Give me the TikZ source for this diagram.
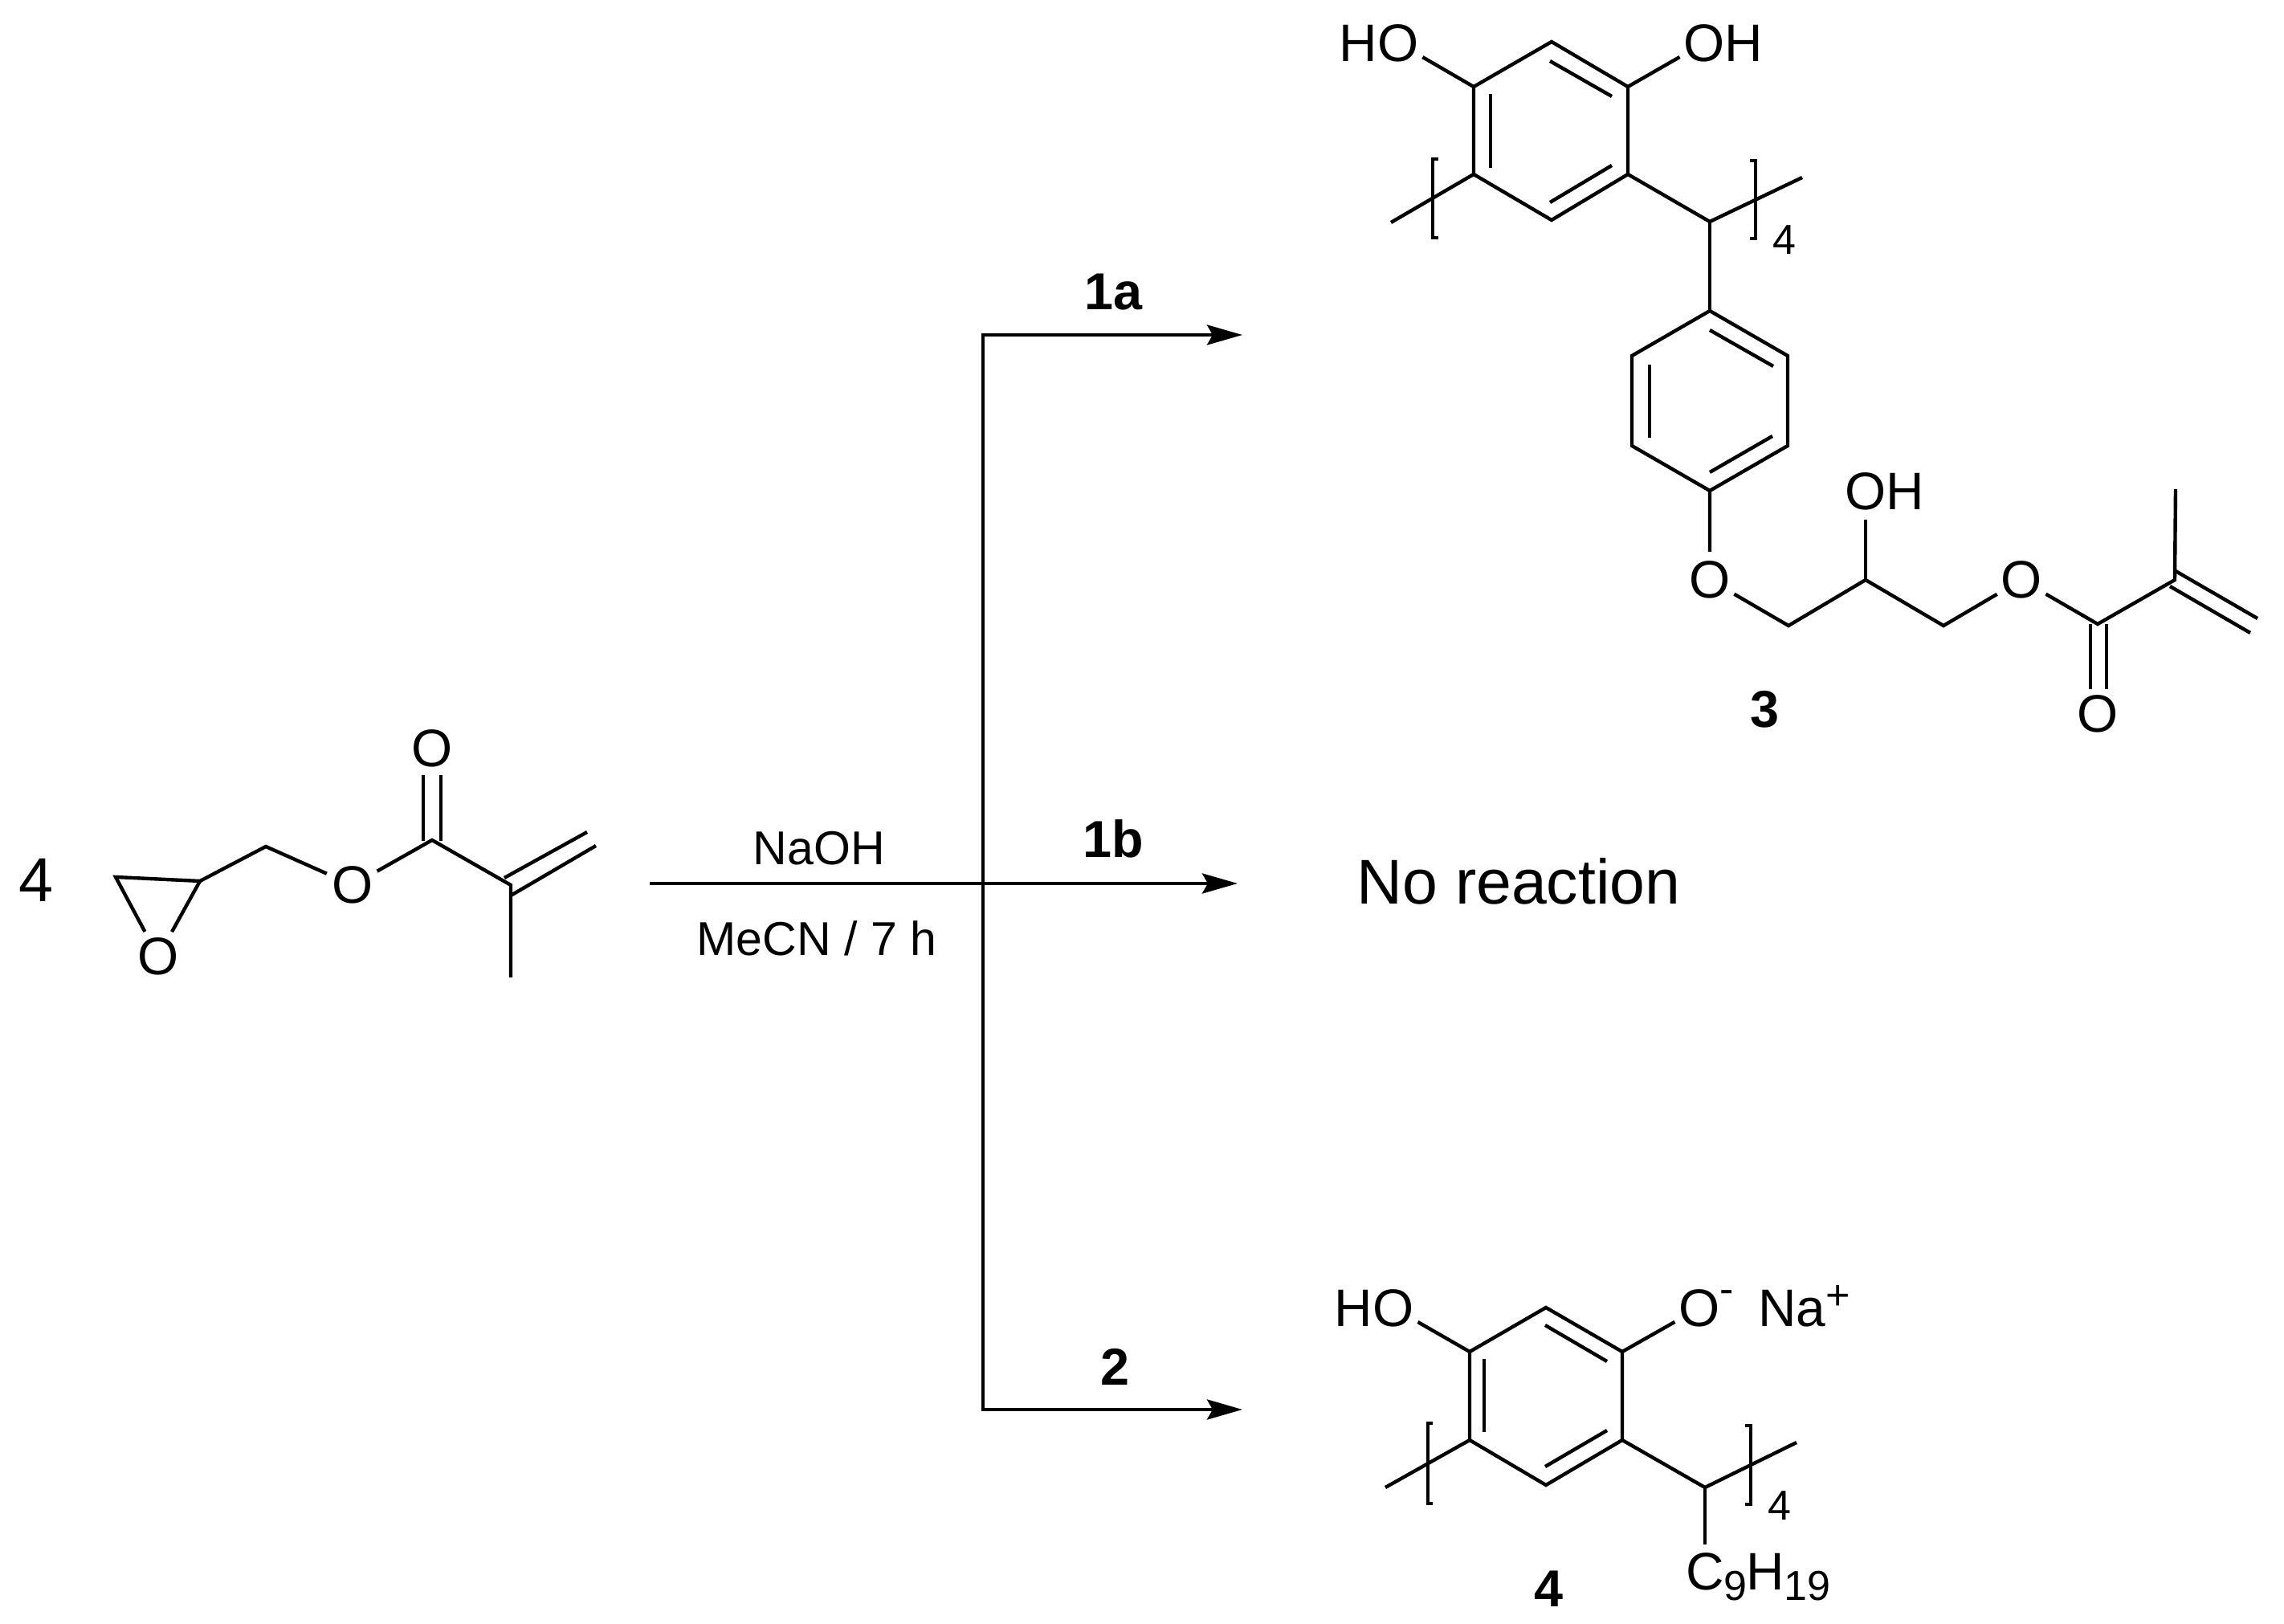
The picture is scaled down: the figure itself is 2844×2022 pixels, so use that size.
\documentclass[tikz,border=0pt]{standalone}
\usepackage{fontspec}
\setmainfont{Liberation Sans}
\usetikzlibrary{arrows.meta}
\newcommand{\subfs}{\fontsize{14.8}{16}\selectfont}
\begin{document}
\begin{tikzpicture}[x=0.01cm,y=-0.01cm,
    bond/.style={line width=1.25pt},
    atom/.style={circle,inner sep=0pt,minimum size=0.67cm,font=\fontsize{18.7}{20}\selectfont},
    txt/.style={anchor=base,inner sep=0pt,font=\fontsize{16.8}{18}\selectfont},
    subtxt/.style={anchor=base,inner sep=0pt,font=\subfs},
    boldtxt/.style={anchor=base,inner sep=0pt,font=\fontsize{18.4}{20}\selectfont\bfseries},
    rxn/.style={line width=1.15pt,-{Stealth[length=0.44cm,width=0.25cm,inset=0.07cm]}}]
\useasboundingbox (0,0) rectangle (2844,2022);

% reagent
\node[anchor=base,inner sep=0pt,font=\fontsize{22}{24}\selectfont] (count) at (45,1123) {4};
\coordinate (ep1) at (144,1092);
\coordinate (ep2) at (249,1097);
\coordinate (ch1) at (331,1054);
\coordinate (co1) at (538,1046);
\coordinate (me1) at (636,1102);
\coordinate (me2) at (636,1217);
\node[atom] (oep) at (197,1191) {O};
\node[atom] (oes) at (439,1102) {O};
\node[atom] (oco) at (538,932) {O};
\draw[bond] (oep) -- (ep1) -- (ep2) -- (oep);
\draw[bond] (ep2) -- (ch1) -- (oes) -- (co1) -- (me1) -- (me2);
\draw[bond] (527,1047) coordinate (a1) -- (527,965) coordinate (a2);
\draw[bond] (549,1047) coordinate (a3) -- (549,965) coordinate (a4);
\draw[bond] (628,1093) coordinate (a5) -- (731,1036) coordinate (a6);
\draw[bond] (636,1115) coordinate (a7) -- (742,1053) coordinate (a8);

% reaction arrows
\coordinate (start) at (809,1100);
\coordinate (mid) at (1224,1100);
\coordinate (up) at (1224,417);
\coordinate (down) at (1224,1755);
\coordinate (tipa) at (1547,417);
\coordinate (tipb) at (1541,1100);
\coordinate (tipc) at (1547,1755);
\draw[line width=1.15pt] (start) -- (mid);
\draw[line width=1.15pt,line cap=rect] (up) -- (down);
\draw[rxn] (up) -- (tipa);
\draw[rxn] (mid) -- (tipb);
\draw[rxn] (down) -- (tipc);
\node[txt] (naoh) at (1020,1077) {NaOH};
\node[txt] (mecn) at (1017,1190) {MeCN / 7 h};
\node[boldtxt] (la) at (1386,386) {1a};
\node[boldtxt] (lb) at (1386,1068) {1b};
\node[boldtxt] (lc) at (1388,1724) {2};
\node[anchor=base,inner sep=0pt,font=\fontsize{22.4}{24}\selectfont] (none) at (1891,1126) {No reaction};

% product 3, upper ring
\coordinate (ra1) at (1932,52);
\coordinate (ra2) at (2027,108);
\coordinate (ra3) at (2027,217);
\coordinate (ra4) at (1932,274);
\coordinate (ra5) at (1835,217);
\coordinate (ra6) at (1835,108);
\coordinate (ca) at (2129,276);
\coordinate (sla) at (1732,277);
\coordinate (sra) at (2244,221);
\node[atom] (hoa) at (1741,53.5) {\llap{H}O};
\node[atom] (oha) at (2122,53.5) {O\rlap{H}};
\draw[bond] (ra1) -- (ra2) -- (ra3) -- (ra4) -- (ra5) -- (ra6) -- cycle;
\draw[bond] (hoa) -- (ra6);
\draw[bond] (oha) -- (ra2);
\draw[bond] (sla) -- (ra5);
\draw[bond] (ra3) -- (ca) -- (sra);
\draw[bond] (1856,117) coordinate (ia1) -- (1856,209) coordinate (ia2);
\draw[bond] (1930,76) coordinate (ia3) -- (2007,120) coordinate (ia4);
\draw[bond] (1930,252) coordinate (ia5) -- (2007,206) coordinate (ia6);
\draw[bond] (1791,198) coordinate (bl1) -- (1784,198) -- (1784,296) -- (1791,296) coordinate (bl2); % brackets
\draw[bond] (2179,200) coordinate (br1) -- (2186,200) -- (2186,297) -- (2179,297) coordinate (br2);
\node[subtxt] (na) at (2222,317) {4};

% product 3, lower ring and chain
\coordinate (rb1) at (2129,387);
\coordinate (rb2) at (2226,443);
\coordinate (rb3) at (2226,555);
\coordinate (rb4) at (2129,611);
\coordinate (rb5) at (2032,555);
\coordinate (rb6) at (2032,443);
\draw[bond] (ca) -- (rb1);
\draw[bond] (rb1) -- (rb2) -- (rb3) -- (rb4) -- (rb5) -- (rb6) -- cycle;
\draw[bond] (2129,411) coordinate (ib1) -- (2208,456) coordinate (ib2);
\draw[bond] (2054,454) coordinate (ib3) -- (2054,545) coordinate (ib4);
\draw[bond] (2129,588) coordinate (ib5) -- (2207,543) coordinate (ib6);
\coordinate (cha) at (2227,779);
\coordinate (chb) at (2323,722);
\coordinate (chc) at (2420,779);
\coordinate (cod) at (2612,777);
\coordinate (cme) at (2708,722);
\coordinate (mea) at (2709,609);
\node[atom] (oa) at (2129,722) {O};
\node[atom] (ohb) at (2323,611.5) {O\rlap{H}};
\node[atom] (ob) at (2517,722) {O};
\node[atom] (oc) at (2612,889) {O};
\draw[bond] (rb4) -- (oa) -- (cha) -- (chb) -- (chc) -- (ob) -- (cod) -- (cme) -- (mea);
\draw[bond] (chb) -- (ohb);
\draw[bond] (2603,777) coordinate (d1) -- (2603,858) coordinate (d2);
\draw[bond] (2623,777) coordinate (d3) -- (2623,858) coordinate (d4);
\draw[bond] (2709,711) coordinate (d5) -- (2811,770) coordinate (d6);
\draw[bond] (2702,730) coordinate (d7) -- (2802,788) coordinate (d8);
\node[boldtxt] (lthree) at (2197.5,906) {3};

% product 4
\coordinate (rc1) at (1925,1628);
\coordinate (rc2) at (2020,1683);
\coordinate (rc3) at (2020,1793);
\coordinate (rc4) at (1925,1849);
\coordinate (rc5) at (1830,1793);
\coordinate (rc6) at (1830,1683);
\coordinate (cb) at (2123,1852);
\coordinate (slb) at (1725,1852);
\coordinate (srb) at (2237,1796);
\node[atom] (hob) at (1735,1628.5) {\llap{H}O};
\node[atom] (ox) at (2116,1628.5) {O\smash{\rlap{\raisebox{8.2pt}{\subfs -}}}};
\node[atom,anchor=base west,minimum size=0pt] (sod) at (2183,1651) {Na\raisebox{5.8pt}{\subfs +}};
\node[atom] (alk) at (2123,1957) {C\smash{\rlap{\raisebox{-3.6pt}{\subfs 9}\kern-0.4pt H\raisebox{-3.6pt}{\subfs 19}}}};
\draw[bond] (rc1) -- (rc2) -- (rc3) -- (rc4) -- (rc5) -- (rc6) -- cycle;
\draw[bond] (hob) -- (rc6);
\draw[bond] (ox) -- (rc2);
\draw[bond] (slb) -- (rc5);
\draw[bond] (rc3) -- (cb) -- (srb);
\draw[bond] (cb) -- (alk);
\draw[bond] (1848,1692) coordinate (ic1) -- (1848,1783) coordinate (ic2);
\draw[bond] (1924,1650) coordinate (ic3) -- (2001,1695) coordinate (ic4);
\draw[bond] (1924,1826) coordinate (ic5) -- (2001,1781) coordinate (ic6);
\draw[bond] (1784,1772) coordinate (bl3) -- (1778,1772) -- (1778,1872) -- (1784,1872) coordinate (bl4); % brackets
\draw[bond] (2173,1775) coordinate (br3) -- (2180,1775) -- (2180,1873) -- (2173,1873) coordinate (br4);
\node[subtxt] (nb) at (2216,1892) {4};
\node[boldtxt] (lfour) at (1928.5,2000.5) {4};
\end{tikzpicture}
\end{document}
